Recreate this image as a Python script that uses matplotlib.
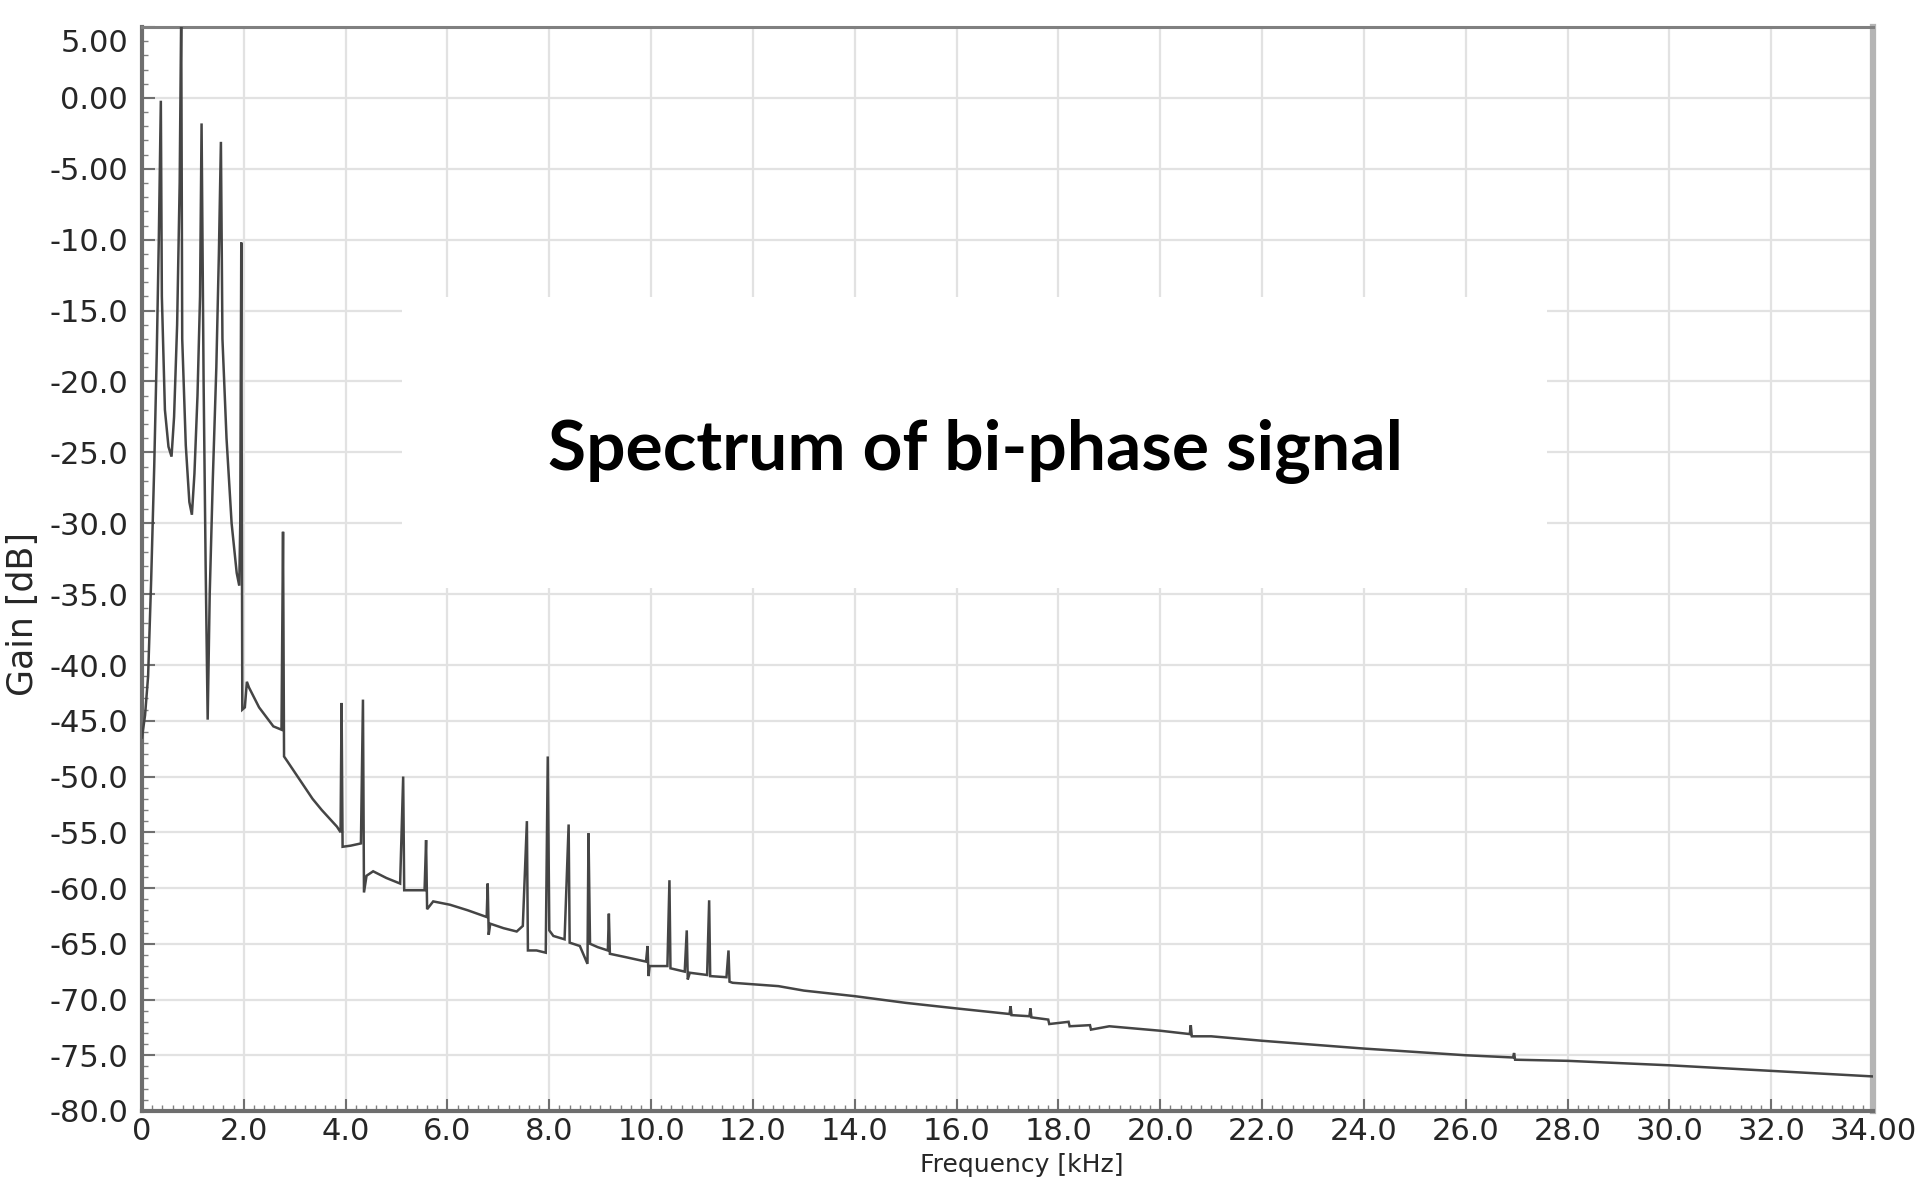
import numpy as np
import matplotlib
matplotlib.use("Agg")
import matplotlib.pyplot as plt
from matplotlib.ticker import MultipleLocator, FixedLocator, FixedFormatter
from matplotlib.patches import Rectangle
import matplotlib.transforms as mtransforms

# ---------------- data ----------------
freq_khz = [
    0.00, 0.06, 0.12, 0.18, 0.24, 0.29, 0.33, 0.37, 0.39, 0.45, 0.52, 0.58, 0.63, 0.69, 0.74, 0.77,
    0.79, 0.86, 0.93, 0.98, 1.03, 1.09, 1.14, 1.17, 1.21, 1.25, 1.29, 1.33, 1.39, 1.46, 1.51, 1.55,
    1.58, 1.66, 1.76, 1.86, 1.91, 1.93, 1.95, 1.97, 2.02, 2.06, 2.10, 2.30, 2.58, 2.74, 2.77, 2.79,
    2.85, 3.10, 3.35, 3.53, 3.83, 3.90, 3.92, 3.94, 4.10, 4.30, 4.34, 4.36, 4.41, 4.54, 4.80, 5.07,
    5.13, 5.15, 5.40, 5.55, 5.58, 5.60, 5.72, 6.05, 6.40, 6.77, 6.79, 6.81, 6.84, 7.10, 7.36, 7.48,
    7.56, 7.58, 7.75, 7.93, 7.97, 8.00, 8.08, 8.30, 8.38, 8.40, 8.60, 8.75, 8.77, 8.80, 8.95, 9.15,
    9.17, 9.19, 9.50, 9.90, 9.93, 9.95, 9.97, 10.32, 10.36, 10.38, 10.66, 10.70, 10.72, 10.76, 11.10,
    11.14, 11.16, 11.48, 11.52, 11.54, 11.60, 12.50, 13.00, 14.00, 15.00, 16.00, 17.04, 17.06, 17.08,
    17.43, 17.45, 17.47, 17.80, 17.82, 18.20, 18.22, 18.62, 18.64, 19.00, 20.00, 20.58, 20.60, 20.62,
    21.00, 22.00, 24.00, 26.00, 26.93, 26.95, 26.97, 28.00, 30.00, 32.00, 34.00,
]
gain_db = [
    -46.5, -44.5, -41.0, -34.0, -26.0, -18.0, -10.0, -0.2, -14.0, -22.0, -24.6, -25.3, -22.5, -16.0, -6.0, 6.0,
    -17.0, -24.5, -28.5, -29.4, -26.5, -21.0, -14.0, -1.8, -20.0, -33.0, -44.9, -35.0, -27.0, -19.0, -11.0, -3.1,
    -17.0, -24.0, -30.0, -33.5, -34.4, -30.0, -10.2, -44.0, -43.8, -41.5, -42.0, -43.8, -45.5, -45.8, -30.6, -48.2,
    -48.6, -50.3, -52.0, -53.0, -54.5, -55.0, -43.4, -56.3, -56.2, -56.0, -43.1, -60.4, -58.9, -58.5, -59.1, -59.6,
    -50.0, -60.2, -60.2, -60.2, -55.7, -61.9, -61.2, -61.5, -62.0, -62.6, -59.6, -64.2, -63.2, -63.6, -63.9, -63.4,
    -54.0, -65.6, -65.6, -65.8, -48.2, -63.8, -64.3, -64.6, -54.3, -64.9, -65.2, -66.8, -55.1, -65.0, -65.3, -65.6,
    -62.3, -65.9, -66.2, -66.6, -65.2, -67.9, -67.0, -67.0, -59.3, -67.2, -67.5, -63.8, -68.2, -67.6, -67.8,
    -61.1, -67.9, -68.0, -65.6, -68.4, -68.5, -68.8, -69.2, -69.7, -70.3, -70.8, -71.3, -70.6, -71.4,
    -71.5, -70.8, -71.6, -71.8, -72.2, -72.0, -72.4, -72.3, -72.7, -72.4, -72.8, -73.1, -72.3, -73.3,
    -73.3, -73.7, -74.4, -75.0, -75.2, -74.8, -75.4, -75.5, -75.9, -76.4, -76.9,
]
x_ticks = [0, 2, 4, 6, 8, 10, 12, 14, 16, 18, 20, 22, 24, 26, 28, 30, 32, 34]
x_tick_labels = ["0", "2.0", "4.0", "6.0", "8.0", "10.0", "12.0", "14.0", "16.0", "18.0",
                 "20.0", "22.0", "24.0", "26.0", "28.0", "30.0", "32.0", "34.00"]
y_ticks = [5, 0, -5, -10, -15, -20, -25, -30, -35, -40, -45, -50, -55, -60, -65, -70, -75, -80]
y_tick_labels = ["5.00", "0.00", "-5.00", "-10.0", "-15.0", "-20.0", "-25.0", "-30.0", "-35.0",
                 "-40.0", "-45.0", "-50.0", "-55.0", "-60.0", "-65.0", "-70.0", "-75.0", "-80.0"]
title_text = "Spectrum of bi-phase signal"
x_label = "Frequency [kHz]"
y_label = "Gain [dB]"

# ---------------- piecewise-linear gain axis (as in the reference) ----------------
K = 14.18 / 11.15


def fwd(y):
    y = np.asarray(y, dtype=float)
    return np.where(y < -40, y, -40 + (y + 40) * K)


def inv(t):
    t = np.asarray(t, dtype=float)
    return np.where(t < -40, t, -40 + (t + 40) / K)


W, H = 1920, 1183
fig = plt.figure(figsize=(W / 100, H / 100), dpi=100)
fig.patch.set_facecolor("white")
L, R, T, B = 142, 1873, 27, 1111
ax = fig.add_axes([L / W, 1 - B / H, (R - L) / W, (B - T) / H])
ax.set_yscale("function", functions=(fwd, inv))
ax.set_xlim(0, 34)
ax.set_ylim(-80, 5)

ax.plot(freq_khz, gain_db, color="#454545", lw=1.8, zorder=3, solid_joinstyle="miter")

# ticks
ax.xaxis.set_major_locator(FixedLocator(x_ticks))
ax.xaxis.set_major_formatter(FixedFormatter(x_tick_labels))
ax.yaxis.set_major_locator(FixedLocator(y_ticks))
ax.yaxis.set_major_formatter(FixedFormatter(y_tick_labels))
ax.xaxis.set_minor_locator(MultipleLocator(0.2))
ax.yaxis.set_minor_locator(MultipleLocator(1.0))

ax.tick_params(which="major", direction="in", length=9, width=1.5, color="#707070",
               labelsize=22, labelcolor="#262626")
ax.tick_params(which="minor", direction="in", length=4, width=1.0, color="#808080")
ax.tick_params(axis="x", which="major", pad=4)
ax.tick_params(axis="y", which="major", pad=10)

ax.grid(True, which="major", color="#e2e2e2", lw=1.6)
ax.set_axisbelow(True)

for side, col, lw in [("left", "#6e6e6e", 3.0), ("bottom", "#6e6e6e", 3.0),
                      ("top", "#808080", 2.2), ("right", "#b5b5b5", 4.5)]:
    ax.spines[side].set_color(col)
    ax.spines[side].set_linewidth(lw)

ax.set_xlabel(x_label, fontsize=18, color="#262626")
ax.xaxis.set_label_coords((1022 - L) / (R - L), -(1153 - B) / (B - T))
ax.xaxis.label.set_va("top")
ax.set_ylabel(y_label, fontsize=25, color="#262626")
ax.yaxis.set_label_coords((40 - L) / (R - L), (B - 614) / (B - T))

# lower the top "5.00" label a little, as in the reference
fig.canvas.draw()
top_lbl = ax.yaxis.get_major_ticks()[0].label1
top_lbl.set_transform(top_lbl.get_transform() +
                      mtransforms.ScaledTranslation(0, -13 / 100, fig.dpi_scale_trans))

# white title panel over the grid
ax.add_patch(Rectangle((402 / W, 1 - 588 / H), (1547 - 402) / W, (588 - 297) / H,
                       transform=fig.transFigure, facecolor="white", edgecolor="none", zorder=2))
fig.text(975 / W, 1 - 470 / H, title_text, ha="center", va="baseline",
         fontsize=50, fontweight="bold", family="Lato", color="black", zorder=5)

fig.savefig("out.png", dpi=100, facecolor="white")
